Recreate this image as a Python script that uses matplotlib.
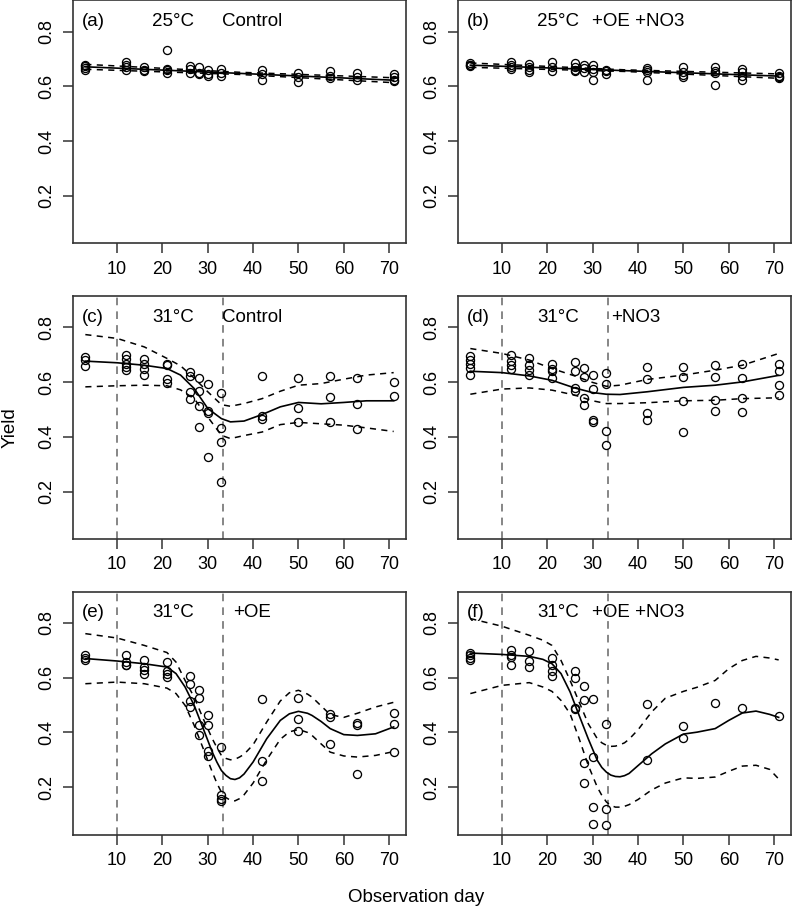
import matplotlib
matplotlib.use('Agg')
import matplotlib.pyplot as plt

plt.rcParams['font.family'] = ['Liberation Sans', 'DejaVu Sans']

# observation days (same in every panel)
obs_days = [3, 12, 16, 21, 26, 28, 30, 33, 42, 50, 57, 63, 71]

# measured yields, one list per observation day
a_yield = [[0.66, 0.668, 0.675, 0.68], [0.69, 0.68, 0.67, 0.66], [0.67, 0.66, 0.655],
           [0.734, 0.665, 0.66, 0.65], [0.675, 0.665, 0.65], [0.67, 0.65, 0.645],
           [0.66, 0.645, 0.64], [0.665, 0.65, 0.64], [0.66, 0.645, 0.625],
           [0.65, 0.635, 0.615], [0.655, 0.64, 0.63], [0.65, 0.635, 0.625],
           [0.645, 0.635, 0.625, 0.62]]
b_yield = [[0.685, 0.68, 0.678, 0.675], [0.69, 0.68, 0.67, 0.665], [0.682, 0.67, 0.66, 0.652],
           [0.688, 0.672, 0.656], [0.686, 0.672, 0.66, 0.655], [0.678, 0.668, 0.652],
           [0.68, 0.665, 0.652, 0.625], [0.662, 0.655, 0.645], [0.668, 0.66, 0.652, 0.625],
           [0.67, 0.652, 0.643, 0.635], [0.67, 0.658, 0.648, 0.605], [0.665, 0.652, 0.638, 0.625],
           [0.65, 0.64, 0.635, 0.63]]
c_yield = [[0.693, 0.681, 0.66], [0.70, 0.684, 0.668, 0.656, 0.644], [0.684, 0.665, 0.65, 0.628],
           [0.668, 0.662, 0.611, 0.598], [0.638, 0.623, 0.565, 0.54], [0.614, 0.568, 0.514, 0.437],
           [0.595, 0.494, 0.486, 0.325], [0.559, 0.434, 0.382, 0.236], [0.622, 0.476, 0.464],
           [0.614, 0.504, 0.453], [0.622, 0.547, 0.453], [0.617, 0.522, 0.428],
           [0.60, 0.55]]
d_yield = [[0.696, 0.681, 0.665, 0.653, 0.628], [0.701, 0.677, 0.662, 0.65], [0.687, 0.662, 0.644, 0.628],
           [0.668, 0.648, 0.64, 0.614], [0.672, 0.64, 0.579, 0.567], [0.653, 0.62, 0.543, 0.518],
           [0.628, 0.575, 0.461, 0.453], [0.635, 0.592, 0.422, 0.37], [0.657, 0.61, 0.488, 0.461],
           [0.654, 0.62, 0.532, 0.418], [0.662, 0.62, 0.534, 0.495], [0.666, 0.614, 0.543, 0.492],
           [0.665, 0.64, 0.59, 0.555]]
e_yield = [[0.684, 0.672, 0.664], [0.682, 0.657, 0.648, 0.645], [0.666, 0.639, 0.627, 0.615],
           [0.657, 0.623, 0.615, 0.603], [0.606, 0.578, 0.514, 0.493], [0.554, 0.526, 0.428, 0.392],
           [0.462, 0.426, 0.331, 0.314], [0.347, 0.17, 0.158, 0.148], [0.523, 0.294, 0.222],
           [0.526, 0.448, 0.405], [0.468, 0.456, 0.359], [0.436, 0.426, 0.247],
           [0.47, 0.43, 0.33]]
f_yield = [[0.69, 0.682, 0.672, 0.664], [0.70, 0.684, 0.676, 0.648], [0.696, 0.66, 0.639],
           [0.672, 0.645, 0.623, 0.605], [0.623, 0.599, 0.489, 0.487], [0.57, 0.517, 0.289, 0.215],
           [0.523, 0.31, 0.127, 0.066], [0.429, 0.122, 0.061], [0.505, 0.298],
           [0.423, 0.379], [0.507], [0.489],
           [0.46]]

# fitted curves (solid) and confidence bands (dashed)
ab_fit_days = [3, 37, 71]
a_fit = [0.672, 0.648, 0.623]
a_lo = [0.663, 0.644, 0.614]
a_hi = [0.681, 0.652, 0.632]
b_fit = [0.678, 0.658, 0.638]
b_lo = [0.670, 0.655, 0.630]
b_hi = [0.686, 0.661, 0.646]

c_fit_days = [3, 10, 16, 21, 24, 27, 30, 33, 35, 38, 42, 46, 50, 55, 60, 65, 71]
c_fit = [0.677, 0.671, 0.662, 0.65, 0.626, 0.577, 0.504, 0.467, 0.455, 0.458, 0.482, 0.51,
         0.526, 0.521, 0.526, 0.532, 0.532]
c_hi = [0.774, 0.76, 0.729, 0.687, 0.66, 0.615, 0.565, 0.518, 0.512, 0.522, 0.54, 0.567,
        0.589, 0.595, 0.611, 0.626, 0.635]
c_lo = [0.583, 0.587, 0.589, 0.587, 0.572, 0.54, 0.473, 0.406, 0.394, 0.405, 0.418, 0.445,
        0.453, 0.448, 0.443, 0.433, 0.42]

d_fit_days = [3, 10, 16, 21, 26, 30, 33, 36, 42, 50, 57, 63, 71]
d_fit = [0.64, 0.635, 0.623, 0.607, 0.579, 0.562, 0.556, 0.555, 0.565, 0.581, 0.589, 0.601, 0.625]
d_hi = [0.723, 0.705, 0.681, 0.65, 0.623, 0.599, 0.585, 0.589, 0.61, 0.626, 0.644, 0.662, 0.705]
d_lo = [0.556, 0.575, 0.579, 0.571, 0.553, 0.532, 0.522, 0.522, 0.525, 0.532, 0.534, 0.54, 0.543]

e_fit_days = [3, 10, 16, 21, 23, 25, 27, 29, 31, 32, 33, 34, 35, 36, 37, 38, 40, 43, 46, 48,
              50, 52, 53, 55, 57, 60, 63, 67, 71]
e_fit = [0.67, 0.661, 0.651, 0.639, 0.615, 0.566, 0.499, 0.414, 0.328, 0.292, 0.261, 0.243,
         0.231, 0.228, 0.234, 0.248, 0.292, 0.377, 0.444, 0.468, 0.477, 0.47, 0.462, 0.44,
         0.414, 0.392, 0.389, 0.395, 0.42]
e_hi = [0.761, 0.745, 0.718, 0.692, 0.657, 0.59, 0.529, 0.45, 0.377, 0.345, 0.316, 0.305,
        0.3, 0.302, 0.31, 0.32, 0.355, 0.438, 0.515, 0.545, 0.554, 0.54, 0.529, 0.497,
        0.465, 0.455, 0.47, 0.493, 0.51]
e_lo = [0.578, 0.584, 0.578, 0.562, 0.542, 0.499, 0.426, 0.341, 0.255, 0.215, 0.182, 0.162,
        0.152, 0.15, 0.158, 0.172, 0.215, 0.3, 0.375, 0.402, 0.411, 0.4, 0.389, 0.358,
        0.328, 0.314, 0.31, 0.316, 0.33]

f_fit_days = [3, 10, 16, 19, 21, 23, 25, 27, 29, 31, 32, 33, 34, 35, 36, 37, 38, 40, 43, 46,
              50, 53, 57, 60, 63, 66, 69, 71]
f_fit = [0.69, 0.685, 0.678, 0.667, 0.651, 0.615, 0.548, 0.462, 0.377, 0.298, 0.272, 0.255,
         0.244, 0.239, 0.238, 0.242, 0.25, 0.279, 0.322, 0.358, 0.394, 0.401, 0.414, 0.444,
         0.471, 0.478, 0.466, 0.455]
f_hi = [0.816, 0.788, 0.755, 0.737, 0.718, 0.663, 0.59, 0.511, 0.432, 0.377, 0.362, 0.353,
        0.349, 0.35, 0.355, 0.362, 0.375, 0.41, 0.475, 0.525, 0.55, 0.565, 0.59, 0.633,
        0.663, 0.678, 0.672, 0.665]
f_lo = [0.542, 0.572, 0.582, 0.566, 0.55, 0.517, 0.468, 0.377, 0.28, 0.2, 0.17, 0.146,
        0.133, 0.127, 0.127, 0.13, 0.136, 0.155, 0.19, 0.215, 0.234, 0.232, 0.237, 0.258,
        0.277, 0.28, 0.265, 0.23]

panel_tags = ['(a)', '(b)', '(c)', '(d)', '(e)', '(f)']
temps = ['25°C', '25°C', '31°C', '31°C', '31°C', '31°C']
treatments = ['Control', '+OE +NO3', 'Control', '+NO3', '+OE', '+OE +NO3']
stress_lines = [10, 33.3]

panels = [
    (a_yield, ab_fit_days, a_fit, a_lo, a_hi),
    (b_yield, ab_fit_days, b_fit, b_lo, b_hi),
    (c_yield, c_fit_days, c_fit, c_lo, c_hi),
    (d_yield, d_fit_days, d_fit, d_lo, d_hi),
    (e_yield, e_fit_days, e_fit, e_lo, e_hi),
    (f_yield, f_fit_days, f_fit, f_lo, f_hi),
]

W, H = 792, 910
fig = plt.figure(figsize=(W / 100, H / 100), dpi=100)

col_left = [73, 458]
ax_w = 333
row_bottom = [243.3, 539, 834.5]
ax_h = 243

spine_col = '#333333'
for i, (yld, fdays, fit, lo, hi) in enumerate(panels):
    r, c = divmod(i, 2)
    ax = fig.add_axes([col_left[c] / W, 1 - row_bottom[r] / H, ax_w / W, ax_h / H])

    if r > 0:
        for xv in stress_lines:
            ax.axvline(xv, color='#666666', lw=1.1, ls=(0, (5, 4)), zorder=1)

    for d, vals in zip(obs_days, yld):
        ax.plot([d] * len(vals), vals, 'o', ms=5.8, mfc='none', mec='black', mew=0.95, zorder=3)

    ax.plot(fdays, fit, color='black', lw=1.2, zorder=2)
    ax.plot(fdays, lo, color='black', lw=1.1, ls=(0, (4, 3.5)), zorder=2)
    ax.plot(fdays, hi, color='black', lw=1.1, ls=(0, (4, 3.5)), zorder=2)

    ax.text(2.2, 0.838, panel_tags[i], fontsize=13.5, ha='left', va='center')
    ax.text(17.8, 0.838, temps[i], fontsize=13.5, ha='left', va='center')
    tx = {'Control': 33.2, '+OE +NO3': 29.9, '+NO3': 34.1, '+OE': 35.7}[treatments[i]]
    ax.text(tx, 0.838, treatments[i], fontsize=13.5, ha='left', va='center')

    ax.set_xlim(0.28, 73.72)
    ax.set_ylim(0.027, 0.915)
    ax.set_xticks([10, 20, 30, 40, 50, 60, 70])
    ax.set_yticks([0.2, 0.4, 0.6, 0.8])
    ax.set_yticklabels(['0.2', '0.4', '0.6', '0.8'], rotation=90, va='center')
    ax.tick_params(direction='out', length=7.5, width=1.1, color=spine_col,
                   labelsize=13, pad=5)
    for s in ax.spines.values():
        s.set_linewidth(1.2)
        s.set_color(spine_col)

fig.text(10 / W, 1 - 428 / H, 'Yield', rotation=90, ha='center', va='center', fontsize=13.5)
fig.text(416 / W, 1 - 898 / H, 'Observation day', ha='center', va='center', fontsize=13.5)

fig.savefig('out.png', dpi=100)
